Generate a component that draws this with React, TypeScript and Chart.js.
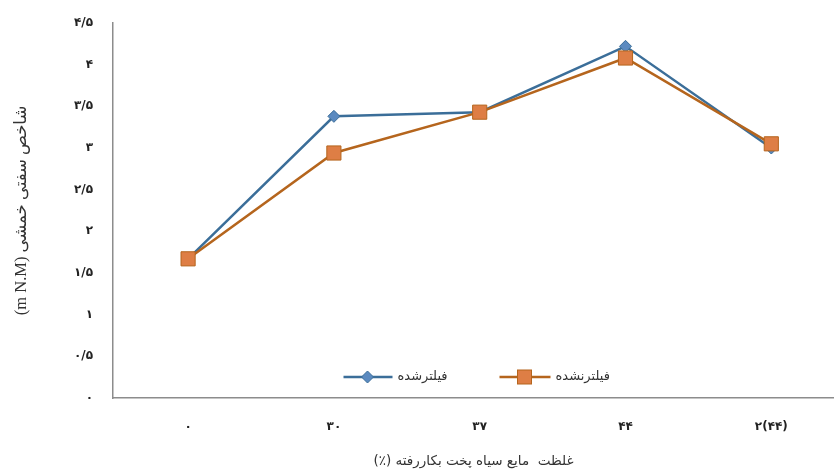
import React, { useEffect, useRef } from "react";
import { Chart, registerables } from "chart.js";

Chart.register(...registerables);

const categories = ["۰", "۳۰", "۳۷", "۴۴", "۲(۴۴)"];
const filtered = [1.67, 3.38, 3.43, 4.22, 3.0];
const unfiltered = [1.67, 2.94, 3.43, 4.08, 3.05];
const yTickLabels = ["۰", "۰/۵", "۱", "۱/۵", "۲", "۲/۵", "۳", "۳/۵", "۴", "۴/۵"];
const seriesNames = ["فیلترشده", "فیلترنشده"];
const xTitle = "\u202Bغلظت  مایع سیاه پخت بکاررفته (٪)\u202C";
const yTitle = "\u202Bشاخص سفتی خمشی (m N.M)\u202C";

const BLUE_LINE = "#3B6E99";
const BLUE_FILL = "#5B8AC0";
const ORANGE_LINE = "#B5651D";
const ORANGE_FILL = "#DE7E45";

const legendPlugin = {
  id: "insideLegend",
  afterDraw(chart: any) {
    const ctx = chart.ctx as CanvasRenderingContext2D;
    const area = chart.chartArea;
    const y = area.bottom - 21;
    const cx = (area.left + area.right) / 2;
    ctx.save();
    // blue item
    let x0 = cx - 130;
    ctx.strokeStyle = BLUE_LINE;
    ctx.lineWidth = 2.5;
    ctx.beginPath();
    ctx.moveTo(x0, y);
    ctx.lineTo(x0 + 49, y);
    ctx.stroke();
    ctx.fillStyle = BLUE_FILL;
    ctx.strokeStyle = BLUE_LINE;
    ctx.lineWidth = 1;
    ctx.beginPath();
    const dx = x0 + 24;
    ctx.moveTo(dx, y - 6);
    ctx.lineTo(dx + 6, y);
    ctx.lineTo(dx, y + 6);
    ctx.lineTo(dx - 6, y);
    ctx.closePath();
    ctx.fill();
    ctx.stroke();
    ctx.fillStyle = "#333";
    ctx.font = "13px 'DejaVu Sans'";
    ctx.textAlign = "left";
    ctx.textBaseline = "middle";
    ctx.fillText(seriesNames[0], x0 + 54, y);
    // orange item
    x0 = cx + 26;
    ctx.strokeStyle = ORANGE_LINE;
    ctx.lineWidth = 2.5;
    ctx.beginPath();
    ctx.moveTo(x0, y);
    ctx.lineTo(x0 + 51, y);
    ctx.stroke();
    ctx.fillStyle = ORANGE_FILL;
    ctx.strokeStyle = ORANGE_LINE;
    ctx.lineWidth = 1;
    ctx.fillRect(x0 + 25 - 7, y - 7, 14, 14);
    ctx.strokeRect(x0 + 25 - 7, y - 7, 14, 14);
    ctx.fillStyle = "#333";
    ctx.fillText(seriesNames[1], x0 + 56, y);
    ctx.restore();
  },
};

export default function App() {
  const ref = useRef<HTMLCanvasElement | null>(null);
  useEffect(() => {
    if (!ref.current) return;
    const chart = new Chart(ref.current, {
      type: "line",
      data: {
        datasets: [
          {
            label: seriesNames[0],
            data: filtered.map((v, i) => ({ x: i, y: v })),
            borderColor: BLUE_LINE,
            backgroundColor: BLUE_FILL,
            pointBackgroundColor: BLUE_FILL,
            pointBorderColor: BLUE_LINE,
            pointStyle: "rectRot",
            pointRadius: 6,
            pointBorderWidth: 1,
            borderWidth: 2.5,
            order: 2,
          },
          {
            label: seriesNames[1],
            data: unfiltered.map((v, i) => ({ x: i, y: v })),
            borderColor: ORANGE_LINE,
            backgroundColor: ORANGE_FILL,
            pointBackgroundColor: ORANGE_FILL,
            pointBorderColor: ORANGE_LINE,
            pointStyle: "rect",
            pointRadius: 10,
            pointBorderWidth: 1,
            borderWidth: 2.5,
            order: 1,
          },
        ],
      },
      options: {
        animation: false,
        responsive: false,
        maintainAspectRatio: false,
        layout: { autoPadding: false, padding: { top: 23, right: 0, left: 0, bottom: 0 } },
        plugins: {
          legend: { display: false },
          tooltip: { enabled: false },
        },
        scales: {
          x: {
            type: "linear",
            min: -0.515,
            max: 4.43,
            grid: { display: false, drawTicks: false },
            border: { display: true, color: "#8C8C8C", width: 1.5 },
            afterBuildTicks: (scale: any) => {
              scale.ticks = categories.map((_, i) => ({ value: i }));
            },
            afterFit: (scale: any) => {
              scale.height = 76;
              scale.paddingLeft = 0;
              scale.paddingRight = 0;
            },
            ticks: {
              autoSkip: false,
              maxRotation: 0,
              padding: 22,
              color: "#222",
              font: { family: "'DejaVu Sans'", size: 12, weight: "bold" },
              callback: (v: any) => categories[Math.round(Number(v))] ?? "",
            },
            title: {
              display: true,
              text: xTitle,
              color: "#333",
              font: { family: "'DejaVu Sans'", size: 13.5 },
              padding: { top: 10, bottom: 4 },
            },
          },
          y: {
            type: "linear",
            min: 0,
            max: 4.5,
            grid: { display: false, drawTicks: false },
            border: { display: true, color: "#8C8C8C", width: 1.5 },
            afterBuildTicks: (scale: any) => {
              scale.ticks = yTickLabels.map((_, i) => ({ value: i * 0.5 }));
            },
            afterFit: (scale: any) => {
              scale.width = 113;
              scale.paddingTop = 0;
              scale.paddingBottom = 0;
            },
            ticks: {
              padding: 20,
              color: "#222",
              font: { family: "'DejaVu Sans'", size: 12, weight: "bold" },
              callback: (v: any) => yTickLabels[Math.round(Number(v) * 2)] ?? "",
            },
            title: {
              display: true,
              text: yTitle,
              color: "#333",
              font: { family: "'Liberation Serif', 'DejaVu Sans'", size: 16.5 },
              padding: { top: 12, bottom: 4 },
            },
          },
        },
      },
      plugins: [legendPlugin],
    });
    return () => chart.destroy();
  }, []);
  return (
    <div style={{ position: "absolute", left: 0, top: 0, width: 834, height: 474, background: "#fff" }}>
      <canvas ref={ref} width={834} height={474} style={{ width: 834, height: 474 }} />
    </div>
  );
}
